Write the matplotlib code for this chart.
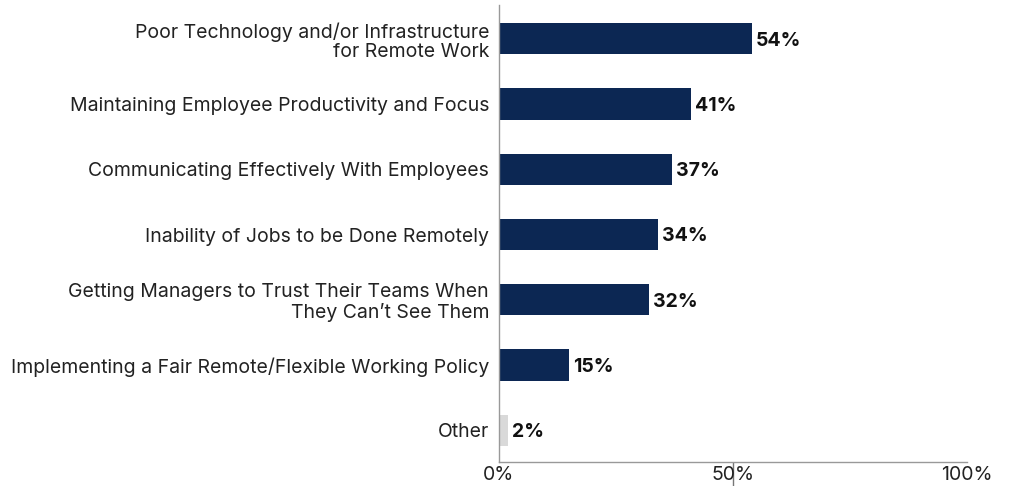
import matplotlib.pyplot as plt

categories = [
    "Poor Technology and/or Infrastructure\nfor Remote Work",
    "Maintaining Employee Productivity and Focus",
    "Communicating Effectively With Employees",
    "Inability of Jobs to be Done Remotely",
    "Getting Managers to Trust Their Teams When\nThey Can\u2019t See Them",
    "Implementing a Fair Remote/Flexible Working Policy",
    "Other",
]
values = [54, 41, 37, 34, 32, 15, 2]
bar_colors = ["#0c2753"] * 6 + ["#d9d9d9"]
xticks = [0, 50, 100]
xticklabels = ["0%", "50%", "100%"]

plt.rcParams['font.family'] = ['Inter', 'DejaVu Sans']

fig = plt.figure(figsize=(10.2, 4.86), dpi=100)
ax = fig.add_axes([0.489, 0.049, 0.459, 0.941])

y = range(len(categories))
ax.barh(y, values, height=0.48, color=bar_colors)

for i, v in enumerate(values):
    ax.text(v + 0.9, i + 0.03, f"{v}%", va='center', ha='left',
            fontsize=14, fontweight='bold', color='#111111')

ax.set_yticks(list(y))
ax.set_yticklabels(categories, fontsize=14, color='#222222', linespacing=1.1)
ax.tick_params(axis='y', length=0, pad=7)

ax.set_xlim(0, 100)
ax.set_ylim(6.49, -0.52)
ax.set_xticks(xticks)
ax.set_xticklabels(xticklabels, fontsize=14, color='#222222')
ax.tick_params(axis='x', length=17, width=1, color='#777777', pad=-14)
xt = ax.xaxis.get_major_ticks()
xt[0].tick1line.set_visible(False)
xt[2].tick1line.set_visible(False)

for s in ['top', 'right']:
    ax.spines[s].set_visible(False)
for s in ['left', 'bottom']:
    ax.spines[s].set_color('#999999')
    ax.spines[s].set_linewidth(1)

fig.savefig('out.png', dpi=100)
